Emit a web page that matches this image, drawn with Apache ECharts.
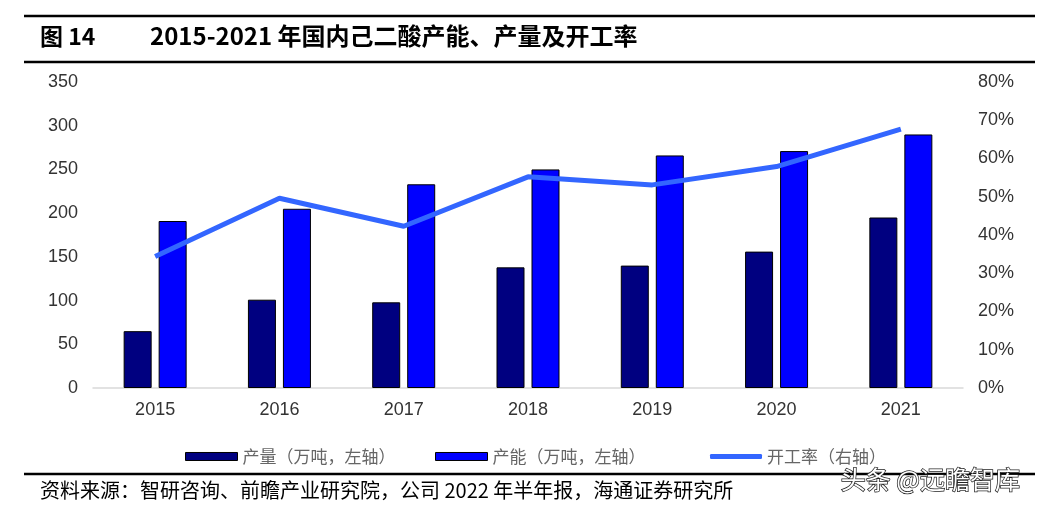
<!DOCTYPE html>
<html><head><meta charset="utf-8">
<script src="https://cdn.jsdelivr.net/npm/echarts@6/dist/echarts.min.js"></script>
<style>html,body{margin:0;padding:0;background:#fff}#c{width:1048px;height:510px}</style>
</head><body><div id="c"></div>
<script>
const categories = ['2015','2016','2017','2018','2019','2020','2021'];
const output = [65, 101, 98, 138, 140, 156, 195];
const capacity = [191, 205, 233, 250, 266, 271, 290];
const utilization = [34.4, 49.6, 42.3, 55.2, 53.1, 57.9, 67.7];
const seriesNames = ['产量（万吨，左轴）', '产能（万吨，左轴）', '开工率（右轴）'];

const chart = echarts.init(document.getElementById('c'));
const lab = {fontFamily:'Liberation Sans, Arial', fontSize:18, color:'#333'};
const legTxt = {fontFamily:'Noto Sans CJK SC', fontSize:17, color:'#666'};
function leg(left, name, icon, w, h, style){
  return {left:left, top:443, itemWidth:w, itemHeight:h, itemGap:0, textStyle:legTxt,
    data:[{name:name, icon:icon, itemStyle:style}]};
}
chart.setOption({
  animation:false,
  grid:{left:93, right:85, top:82, bottom:122},
  legend:[
    leg(180, seriesNames[0], 'rect', 52, 8, {color:'#000080', borderColor:'#000', borderWidth:1}),
    leg(430, seriesNames[1], 'rect', 52, 8, {color:'#0000ff', borderColor:'#000', borderWidth:1}),
    leg(705, seriesNames[2], 'roundRect', 52, 5, {color:'#3366ff', borderWidth:0})
  ],
  xAxis:{type:'category', data:categories,
    axisLine:{lineStyle:{color:'#d9d9d9', width:1.5}}, axisTick:{show:false},
    axisLabel:Object.assign({margin:13}, lab)},
  yAxis:[
    {type:'value', min:0, max:350, interval:50, splitLine:{show:false},
     axisLine:{show:false}, axisTick:{show:false}, axisLabel:Object.assign({margin:15}, lab)},
    {type:'value', min:0, max:80, interval:10, splitLine:{show:false},
     axisLine:{show:false}, axisTick:{show:false}, axisLabel:Object.assign({margin:15, formatter:'{value}%'}, lab)}
  ],
  series:[
    {name:seriesNames[0], type:'bar', data:output, barWidth:28, barGap:'25%',
     itemStyle:{color:'#000080', borderColor:'#000', borderWidth:1}},
    {name:seriesNames[1], type:'bar', data:capacity, barWidth:28,
     itemStyle:{color:'#0000ff', borderColor:'#000', borderWidth:1}},
    {name:seriesNames[2], type:'line', yAxisIndex:1, data:utilization, symbol:'none',
     lineStyle:{color:'#3366ff', width:5}, itemStyle:{color:'#3366ff'}}
  ],
  graphic:[
    {type:'line', shape:{x1:24,y1:16,x2:1035,y2:16}, style:{stroke:'#000', lineWidth:2.5}},
    {type:'line', shape:{x1:24,y1:62,x2:1035,y2:62}, style:{stroke:'#000', lineWidth:2.5}},
    {type:'text', left:40, top:25, style:{text:'图 14', font:'bold 23px "Noto Sans CJK SC", "Liberation Sans"', fill:'#000'}},
    {type:'text', left:150, top:24, style:{text:'2015-2021 年国内己二酸产能、产量及开工率', font:'bold 24px "Noto Sans CJK SC", "Liberation Sans"', fill:'#000'}},
    {type:'line', shape:{x1:24,y1:474,x2:1035,y2:474}, style:{stroke:'#000', lineWidth:2.5}},
    {type:'text', left:40, top:480, style:{text:'资料来源：智研咨询、前瞻产业研究院，公司 2022 年半年报，海通证券研究所', font:'20px "Noto Sans CJK SC"', fill:'#000'}},
    {type:'text', left:840, top:466, style:{text:'头条 @远瞻智库', font:'25px "Noto Sans CJK SC"', fill:'#fff', stroke:'#222', lineWidth:1.5}}
  ]
});
</script></body></html>
